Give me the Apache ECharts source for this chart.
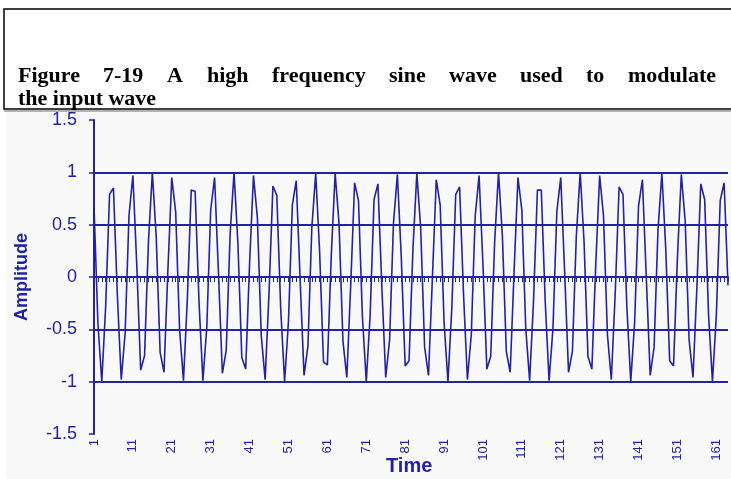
<!DOCTYPE html>
<html><head><meta charset="utf-8">
<script src="https://cdn.jsdelivr.net/npm/echarts@6/dist/echarts.min.js"></script>
<style>html,body{margin:0;padding:0;background:#fff;}#c{width:731px;height:479px;}</style>
</head><body><div id="c"></div>
<script>
const titleLine1 = "Figure 7-19 A high frequency sine wave used to modulate";
const titleLine2 = "the input wave";
const yTicks = [-1.5, -1, -0.5, 0, 0.5, 1, 1.5];
const labelStep = 10;
const values = [
0.68, -0.44, -1.00, -0.28, 0.79, 0.85, -0.17, -0.98, -0.54, 0.59,
0.97, 0.11, -0.89, -0.75, 0.34, 1.00, 0.38, -0.72, -0.91, 0.07,
0.95, 0.62, -0.50, -0.99, -0.21, 0.83, 0.82, -0.24, -0.99, -0.48,
0.64, 0.95, 0.04, -0.92, -0.70, 0.41, 1.00, 0.32, -0.77, -0.88,
0.13, 0.97, 0.57, -0.56, -0.98, -0.15, 0.87, 0.78, -0.30, -1.00,
-0.42, 0.69, 0.92, -0.03, -0.94, -0.66, 0.47, 0.99, 0.25, -0.81,
-0.84, 0.20, 0.99, 0.51, -0.61, -0.96, -0.08, 0.90, 0.73, -0.37,
-1.00, -0.36, 0.74, 0.89, -0.09, -0.96, -0.60, 0.52, 0.98, 0.19,
-0.85, -0.80, 0.27, 0.99, 0.46, -0.67, -0.94, -0.01, 0.93, 0.69,
-0.43, -1.00, -0.29, 0.79, 0.86, -0.16, -0.98, -0.55, 0.58, 0.97,
0.12, -0.88, -0.76, 0.33, 1.00, 0.39, -0.71, -0.91, 0.05, 0.95,
0.64, -0.49, -0.99, -0.23, 0.83, 0.83, -0.23, -0.99, -0.49, 0.63,
0.95, 0.05, -0.91, -0.71, 0.39, 1.00, 0.33, -0.76, -0.88, 0.12,
0.97, 0.58, -0.55, -0.98, -0.16, 0.86, 0.79, -0.29, -1.00, -0.43,
0.68, 0.93, -0.01, -0.94, -0.67, 0.45, 0.99, 0.27, -0.80, -0.85,
0.19, 0.98, 0.53, -0.60, -0.96, -0.10, 0.89, 0.74, -0.36, -1.00,
-0.37, 0.73, 0.90, -0.08
];
const categories = values.map((_, i) => String(i + 1));

const BLUE = '#2222a4';
const titleFont = 'bold 22px "Liberation Serif"';

// justified first title line
const cv = document.createElement('canvas').getContext('2d');
cv.font = titleFont;
const words = titleLine1.split(' ');
const widths = words.map(w => cv.measureText(w).width);
const L = 18, R = 716;
const gap = (R - L - widths.reduce((a, b) => a + b, 0)) / (words.length - 1);
const titleEls = [];
let xx = L;
words.forEach((w, i) => {
  titleEls.push({type: 'text', left: Math.round(xx), top: 65, z: 10,
    style: {text: w, font: titleFont, fill: '#000'}});
  xx += widths[i] + gap;
});
titleEls.push({type: 'text', left: L, top: 88, z: 10,
  style: {text: titleLine2, font: titleFont, fill: '#000'}});

const chart = echarts.init(document.getElementById('c'), null, {renderer: 'canvas'});
chart.setOption({
  animation: false,
  backgroundColor: '#fff',
  graphic: [
    {type: 'rect', shape: {x: 6, y: 112, width: 730, height: 370}, style: {fill: '#f9f9f9'}, z: -10},
    {type: 'rect', shape: {x: 4, y: 9, width: 740, height: 100}, style: {fill: '#fff', stroke: '#000', lineWidth: 1.5}, z: 1},
    {type: 'line', shape: {x1: 4, y1: 111, x2: 731, y2: 111}, style: {stroke: '#999', lineWidth: 1.5}, z: 1},
    ...titleEls,
    {type: 'text', left: 386, top: 456, style: {text: 'Time', font: 'bold 20px "Liberation Sans"', fill: BLUE}}
  ],
  grid: {left: 94, right: 3, top: 120, bottom: 45, containLabel: false},
  xAxis: {
    type: 'category', data: categories, boundaryGap: false,
    axisLine: {onZero: true, lineStyle: {color: BLUE, width: 2}},
    axisTick: {show: true, interval: 0, length: 5, lineStyle: {color: BLUE, width: 1}},
    axisLabel: {interval: labelStep - 1, rotate: 90, color: BLUE, fontSize: 13,
      fontFamily: 'Liberation Sans', margin: 5},
    splitLine: {show: false}
  },
  yAxis: {
    type: 'value', min: yTicks[0], max: yTicks[yTicks.length - 1], interval: 0.5,
    name: 'Amplitude', nameLocation: 'middle', nameGap: 63, nameRotate: 90,
    nameTextStyle: {color: BLUE, fontWeight: 'bold', fontSize: 18, fontFamily: 'Liberation Sans'},
    axisLine: {show: true, lineStyle: {color: BLUE, width: 2}},
    axisTick: {show: true, length: 5, lineStyle: {color: BLUE, width: 1.5}},
    axisLabel: {color: BLUE, fontSize: 18, fontFamily: 'Liberation Sans', margin: 17},
    splitLine: {show: true, lineStyle: {width: 2,
      color: ['rgba(0,0,0,0)', BLUE, BLUE, BLUE, BLUE, BLUE, 'rgba(0,0,0,0)']}}
  },
  series: [{
    type: 'line', data: values, showSymbol: false, symbol: 'none',
    lineStyle: {color: BLUE, width: 1.6}, z: 5
  }]
});
</script></body></html>
